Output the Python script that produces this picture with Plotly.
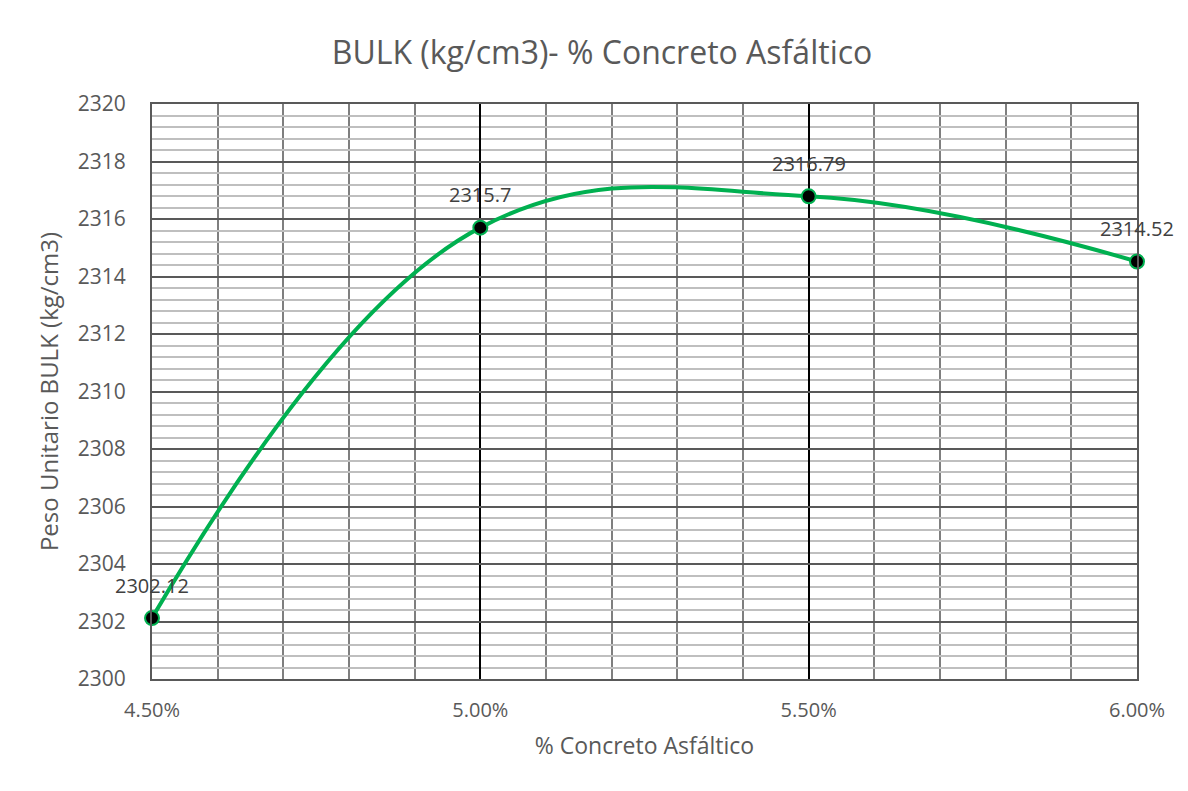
import plotly.graph_objects as go

asfalto = [0.045, 0.050, 0.055, 0.060]
bulk = [2302.12, 2315.70, 2316.79, 2314.52]
etiquetas = ['2302.12', '2315.7', '2316.79', '2314.52']

FONT = 'Open Sans'
gris_texto = '#595959'

fig = go.Figure()

fig.add_trace(go.Scatter(
    x=asfalto,
    y=bulk,
    mode='lines+markers',
    line=dict(color='#00b050', width=4, shape='spline', smoothing=1.15),
    marker=dict(color='black', size=14, line=dict(color='#00b050', width=2)),
    showlegend=False,
    cliponaxis=False,
))

for xv, yv, txt in zip(asfalto, bulk, etiquetas):
    fig.add_annotation(
        x=xv, y=yv, text=txt, showarrow=False,
        yshift=33, font=dict(family=FONT, size=20, color='#404040'),
    )

fig.update_layout(
    width=1188,
    height=791,
    paper_bgcolor='white',
    plot_bgcolor='white',
    margin=dict(l=144, r=59, t=96, b=120),
    font=dict(family=FONT, color=gris_texto),
    title=dict(
        text='BULK (kg/cm3)- % Concreto Asfáltico',
        x=0.5, xref='container', xanchor='center',
        y=0.943, yref='container', yanchor='middle',
        font=dict(family=FONT, size=32, color=gris_texto),
    ),
)

fig.update_xaxes(
    range=[0.045, 0.060],
    tick0=0.045, dtick=0.005,
    tickformat='.2%',
    tickfont=dict(size=20, color=gris_texto),
    ticklabelstandoff=12,
    showgrid=True, gridcolor='#000000', gridwidth=1.5,
    minor=dict(dtick=0.001, tick0=0.045, showgrid=True, gridcolor='#7f7f7f', gridwidth=2),
    showline=True, linecolor='#595959', linewidth=2, mirror=True,
    zeroline=False,
    title=dict(text='% Concreto Asfáltico', font=dict(size=23, color=gris_texto), standoff=16),
)

fig.update_yaxes(
    range=[2300, 2320],
    tick0=2300, dtick=2,
    tickfont=dict(size=21, color=gris_texto),
    ticklabelstandoff=20,
    showgrid=True, gridcolor='#595959', gridwidth=2,
    minor=dict(dtick=0.4, tick0=2300, showgrid=True, gridcolor='#bfbfbf', gridwidth=2),
    showline=True, linecolor='#595959', linewidth=2, mirror=True,
    zeroline=False,
    title=dict(text='Peso Unitario BULK (kg/cm3)', font=dict(size=24, color=gris_texto), standoff=12),
)

fig.write_html('out.html')
